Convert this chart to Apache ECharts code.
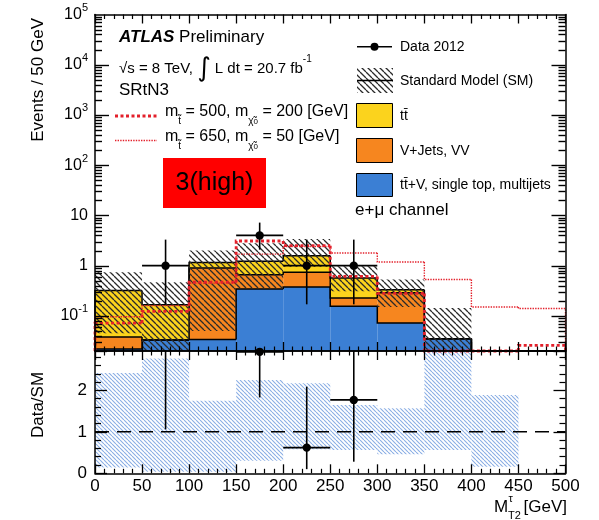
<!DOCTYPE html>
<html>
<head>
<meta charset="utf-8">
<script src="https://cdn.jsdelivr.net/npm/echarts@6/dist/echarts.min.js"></script>
<style>
html, body { margin: 0; padding: 0; background: #fff; }
#chart { width: 599px; height: 520px; }
</style>
</head>
<body>
<div id="chart"></div>
<script>
// ---- binning (M_T2 in GeV, 50 GeV bins) ----
const binLow = [0, 50, 100, 150, 200, 250, 300, 350, 400, 450];
const binWidth = 50;
const xTickLabels = [0, 50, 100, 150, 200, 250, 300, 350, 400, 450, 500];
const logTickLabels = [0.1, 1, 10, 100, 1000, 10000, 100000];
const ratioTickLabels = [0, 1, 2];

// ---- SM background components (events / bin) ----
const otherBkg = [0.022, 0.033, 0.034, 0.344, 0.377, 0.155, 0.072, 0.035, 0, 0]; // tt+V, single top, multijets
const vJets    = [0.016, 0, 0.866, 0.316, 0.363, 0.073, 0.218, 0, 0, 0];         // V+Jets, VV
const ttbar    = [0.282, 0.133, 0.26, 0.56, 0.84, 0.342, 0.04, 0, 0, 0];         // ttbar

// SM total uncertainty band
const smBandLow  = [0.045, 0.007, 0.05, 0.35, 0.95, 0.31, 0.15, 0.02, null, null];
const smBandHigh = [0.74, 0.47, 2.0, 2.8, 3.4, 0.97, 0.53, 0.144, null, null];

// signal benchmarks
const sig500_200 = [0.072, 0.123, 0.47, 3.1, 2.5, 0.61, 0.28, 0, 0, 0.026];
const sig650_50  = [0.096, 0.16, 0.45, 1.7, 2.4, 1.79, 1.18, 0.53, 0.15, 0.14];

// data 2012
const dataCounts  = [0, 1, 0, 4, 1, 1, 0, 0, 0, 0];
const dataErrLow  = [null, 0.17, null, 2.08, 0.17, 0.17, null, null, null, null];
const dataErrHigh = [null, 3.3, null, 7.2, 3.3, 3.3, null, null, null, null];

// Data/SM ratio
const ratioVal     = [null, 6.0, null, 2.93, 0.62, 1.77, null, null, null, null];
const ratioErrLow  = [null, 1.06, null, 1.83, 0.10, 0.28, null, null, null, null];
const ratioErrHigh = [null, 20, null, 5.9, 2.09, 5.8, null, null, null, null];
const ratioBandLow  = [0.14, 0.04, 0.04, 0.30, 0.58, 0.56, 0.46, 0.56, 0.16, null];
const ratioBandHigh = [2.42, 2.77, 1.75, 2.25, 2.17, 1.65, 1.57, 4.1, 1.89, null];

// ---- styling ----
const FONT = '"Liberation Sans", Arial, Helvetica, sans-serif';
const C_YELLOW = '#FBD31D';
const C_ORANGE = '#F6861F';
const C_BLUE = '#3B7FD4';
const C_RED = '#E3202B';
const yMin = 0.02, yMax = 1e5;
const rMin = 0, rMax = 2.95;

function hatch(color, size, width) {
  const c = document.createElement('canvas');
  c.width = size; c.height = size;
  const g = c.getContext('2d');
  g.strokeStyle = color; g.lineWidth = width;
  g.beginPath();
  for (const k of [-size, 0, size]) { g.moveTo(k, 0); g.lineTo(k + size, size); }
  g.stroke();
  return { image: c, repeat: 'repeat' };
}
const smHatch = hatch('#2a2a2a', 6, 1.3);
const ratioHatch = hatch('#8AAEE4', 4, 1.1);

const clampLog = v => (v > yMin ? Math.min(v, yMax) : yMin);
const clampLin = v => Math.max(rMin, Math.min(rMax, v));

// cumulative stack tops
const topBlue = otherBkg.slice();
const topOrange = otherBkg.map((v, i) => v + vJets[i]);
const topYellow = topOrange.map((v, i) => v + ttbar[i]);

function fillSeries(lows, highs, fill, z, xi, yi, clamp) {
  const data = [];
  binLow.forEach((x, i) => {
    if (highs[i] == null || lows[i] == null) return;
    if (!(highs[i] > lows[i])) return;
    data.push([x, clamp(highs[i]), clamp(lows[i]), x + binWidth]);
  });
  return {
    type: 'custom', xAxisIndex: xi, yAxisIndex: yi, z, silent: true,
    encode: { x: 0, y: 1 },
    data,
    renderItem(params, api) {
      const p0 = api.coord([api.value(0), api.value(1)]);
      const p1 = api.coord([api.value(3), api.value(2)]);
      return {
        type: 'rect',
        shape: { x: p0[0], y: p0[1], width: p1[0] - p0[0], height: p1[1] - p0[1] },
        style: { fill }
      };
    }
  };
}

function stepSeries(tops, color, width, dash, z) {
  return {
    type: 'custom', xAxisIndex: 0, yAxisIndex: 0, z, silent: true,
    encode: { x: 0, y: 1 },
    data: binLow.map((x, i) => [x, clampLog(tops[i])]),
    renderItem(params, api) {
      const i = params.dataIndex;
      const x0 = binLow[i], x1 = x0 + binWidth;
      const cur = clampLog(tops[i]);
      const prev = i === 0 ? yMin : clampLog(tops[i - 1]);
      const pts = [api.coord([x0, prev]), api.coord([x0, cur]), api.coord([x1, cur])];
      if (i === binLow.length - 1) pts.push(api.coord([x1, yMin]));
      return {
        type: 'polyline',
        shape: { points: pts },
        style: { stroke: color, lineWidth: width, lineDash: dash, fill: 'none' }
      };
    }
  };
}

function pointSeries(vals, lo, hi, xi, yi, clamp, vmin, vmax, z) {
  const data = [];
  binLow.forEach((x, i) => {
    if (vals[i] == null || !(vals[i] > 0)) return;
    data.push([x + binWidth / 2, vals[i], lo[i], hi[i], x, x + binWidth]);
  });
  return {
    type: 'custom', xAxisIndex: xi, yAxisIndex: yi, z, silent: true,
    encode: { x: 0, y: 1 },
    data,
    renderItem(params, api) {
      const xc = api.value(0), v = api.value(1), l = api.value(2), h = api.value(3);
      const xa = api.value(4), xb = api.value(5);
      const children = [];
      const pl = api.coord([xc, clamp(l)]);
      const ph = api.coord([xc, clamp(h)]);
      if (Math.abs(pl[1] - ph[1]) > 0.5) {
        children.push({ type: 'line', shape: { x1: pl[0], y1: pl[1], x2: ph[0], y2: ph[1] },
          style: { stroke: '#000', lineWidth: 1.6 } });
      }
      if (v >= vmin && v <= vmax) {
        const pa = api.coord([xa, v]), pb = api.coord([xb, v]);
        children.push({ type: 'line', shape: { x1: pa[0], y1: pa[1], x2: pb[0], y2: pb[1] },
          style: { stroke: '#000', lineWidth: 1.6 } });
        const pc = api.coord([xc, v]);
        children.push({ type: 'circle', shape: { cx: pc[0], cy: pc[1], r: 4.2 }, style: { fill: '#000' } });
      }
      return { type: 'group', children };
    }
  };
}

// upper-panel log ticks (major at decades, minor at 2..9)
const logTicks = [];
for (let e = -2; e <= 5; e++) {
  for (let k = 1; k <= 9; k++) {
    const v = k * Math.pow(10, e);
    if (v > yMin * 1.001 && v < yMax * 0.999) logTicks.push([0, v, k === 1 ? 1 : 0]);
  }
}
const logTickSeries = {
  type: 'custom', xAxisIndex: 0, yAxisIndex: 0, z: 20, silent: true,
  encode: { x: 0, y: 1 },
  data: logTicks,
  renderItem(params, api) {
    const v = api.value(1);
    const len = api.value(2) ? 14 : 7;
    const pl = api.coord([0, v]), pr = api.coord([500, v]);
    const y = Math.round(pl[1]) + 0.5;
    return {
      type: 'group',
      children: [
        { type: 'line', shape: { x1: pl[0], y1: y, x2: pl[0] + len, y2: y }, style: { stroke: '#000', lineWidth: 1.4 } },
        { type: 'line', shape: { x1: pr[0], y1: y, x2: pr[0] - len, y2: y }, style: { stroke: '#000', lineWidth: 1.4 } }
      ]
    };
  }
};

function logLabel(v) {
  const e = Math.log10(v);
  const r = Math.round(e);
  if (Math.abs(e - r) > 1e-6) return '';
  if (!logTickLabels.some(t => Math.abs(Math.log10(t) - r) < 1e-6)) return '';
  if (r === 0) return '{b|1}';
  if (r === 1) return '{b|10}';
  return '{b|10}{s|' + r + '}';
}

const axisLineStyle = { color: '#000', width: 1.5 };
function xAx(grid, pos, labels) {
  return {
    gridIndex: grid, type: 'value', min: 0, max: 500, interval: 50, position: pos, z: 10,
    axisLine: { show: true, onZero: false, lineStyle: axisLineStyle },
    axisTick: { show: true, inside: true, length: 9, lineStyle: { color: '#000', width: 1.3 } },
    minorTick: { show: true, splitNumber: 5, length: 4.5, lineStyle: { color: '#000', width: 1.2 } },
    splitLine: { show: false },
    axisLabel: labels ? {
      show: true, margin: 5, fontSize: 17, color: '#000', fontFamily: FONT,
      formatter: v => (xTickLabels.indexOf(v) >= 0 ? String(v) : '')
    } : { show: false }
  };
}
function ratioYAx(pos, labels) {
  return {
    gridIndex: 1, type: 'value', min: rMin, max: rMax, interval: 1, position: pos, z: 10,
    axisLine: { show: true, onZero: false, lineStyle: axisLineStyle },
    axisTick: { show: true, inside: true, length: 12, lineStyle: { color: '#000', width: 1.3 } },
    minorTick: { show: true, splitNumber: 5, length: 6, lineStyle: { color: '#000', width: 1.2 } },
    splitLine: { show: false },
    axisLabel: labels ? {
      show: true, margin: 8, fontSize: 17, color: '#000', fontFamily: FONT,
      formatter: v => (ratioTickLabels.indexOf(v) >= 0 ? String(v) : '')
    } : { show: false }
  };
}
function logYAx(pos, labels) {
  return {
    gridIndex: 0, type: 'log', logBase: 10, min: yMin, max: yMax, position: pos, z: 10,
    axisLine: { show: true, onZero: false, lineStyle: axisLineStyle },
    axisTick: { show: false }, minorTick: { show: false }, splitLine: { show: false },
    axisLabel: labels ? {
      show: true, margin: 7, color: '#000', formatter: logLabel,
      rich: {
        b: { fontSize: 16, fontFamily: FONT, color: '#000', lineHeight: 24, verticalAlign: 'middle' },
        s: { fontSize: 11, fontFamily: FONT, color: '#000', lineHeight: 12, verticalAlign: 'top' }
      }
    } : { show: false }
  };
}

// ---- text elements ----
function txt(x, y, text, size, opts) {
  opts = opts || {};
  return {
    type: 'text', x, y, z: 100, rotation: opts.rotation || 0, silent: true,
    style: Object.assign({
      text, fontSize: size, fontFamily: FONT, fill: '#000',
      align: opts.align || 'left', textAlign: opts.align || 'left',
      verticalAlign: 'middle', textVerticalAlign: 'middle'
    }, opts.style || {})
  };
}
const richSig = {
  m: { fontSize: 16, fontFamily: FONT, fill: '#000', color: '#000', lineHeight: 28, verticalAlign: 'middle' },
  sub: { fontSize: 10, fontFamily: FONT, fill: '#000', color: '#000', lineHeight: 14, verticalAlign: 'bottom' },
  ss: { fontSize: 8, fontFamily: FONT, fill: '#000', color: '#000', lineHeight: 22, verticalAlign: 'bottom' }
};

const graphic = [
  // category tag
  { type: 'rect', z: 90, silent: true, shape: { x: 163, y: 158, width: 103, height: 50 }, style: { fill: '#FF0000' } },
  txt(214.5, 183, '3(high)', 25, { align: 'center' }),

  // header
  {
    type: 'text', x: 119, y: 37, z: 100, silent: true,
    style: {
      text: '{b|ATLAS}{r| Preliminary}', align: 'left', verticalAlign: 'middle', textAlign: 'left', textVerticalAlign: 'middle',
      rich: {
        b: { fontSize: 17, fontFamily: FONT, fontWeight: 'bold', fontStyle: 'italic', fill: '#000', color: '#000' },
        r: { fontSize: 17, fontFamily: FONT, fill: '#000', color: '#000' }
      }
    }
  },
  {
    type: 'text', x: 119, y: 69, z: 100, silent: true,
    style: {
      text: '{a|√s = 8 TeV, }{i|∫}{a| L dt = 20.7 fb}{s|-1}', align: 'left', verticalAlign: 'middle', textAlign: 'left', textVerticalAlign: 'middle',
      rich: {
        a: { fontSize: 15, fontFamily: FONT, fill: '#000', color: '#000', lineHeight: 30, verticalAlign: 'middle' },
        i: { fontSize: 26, fontFamily: '"DejaVu Sans", sans-serif', fill: '#000', color: '#000', lineHeight: 30, verticalAlign: 'middle' },
        s: { fontSize: 10, fontFamily: FONT, fill: '#000', color: '#000', lineHeight: 18, verticalAlign: 'top' }
      }
    }
  },
  txt(119, 90, 'SRtN3', 17),

  // signal legend
  { type: 'line', z: 100, silent: true, shape: { x1: 115, y1: 116, x2: 157, y2: 116 }, style: { stroke: C_RED, lineWidth: 2.8, lineDash: [3, 2.5] } },
  { type: 'line', z: 100, silent: true, shape: { x1: 115, y1: 140.5, x2: 157, y2: 140.5 }, style: { stroke: C_RED, lineWidth: 1.4, lineDash: [1.4, 1.2] } },
  {
    type: 'text', x: 165, y: 112, z: 100, silent: true,
    style: { text: '{m|m}{sub|t̃}{m| = 500, m}{sub|χ̃}{ss|0}{m| = 200 [GeV]}', align: 'left', verticalAlign: 'middle', textAlign: 'left', textVerticalAlign: 'middle', rich: richSig }
  },
  {
    type: 'text', x: 165, y: 137, z: 100, silent: true,
    style: { text: '{m|m}{sub|t̃}{m| = 650, m}{sub|χ̃}{ss|0}{m| = 50 [GeV]}', align: 'left', verticalAlign: 'middle', textAlign: 'left', textVerticalAlign: 'middle', rich: richSig }
  },

  // right legend
  { type: 'line', z: 100, silent: true, shape: { x1: 357, y1: 46.7, x2: 392, y2: 46.7 }, style: { stroke: '#000', lineWidth: 1.6 } },
  { type: 'circle', z: 100, silent: true, shape: { cx: 374.5, cy: 46.7, r: 4 }, style: { fill: '#000' } },
  txt(400, 47, 'Data 2012', 14),
  { type: 'rect', z: 100, silent: true, shape: { x: 357, y: 68, width: 36, height: 25 }, style: { fill: smHatch } },
  { type: 'line', z: 101, silent: true, shape: { x1: 357, y1: 80.5, x2: 393, y2: 80.5 }, style: { stroke: '#000', lineWidth: 1.5 } },
  txt(400, 81, 'Standard Model (SM)', 14),
  { type: 'rect', z: 100, silent: true, shape: { x: 356.5, y: 103.5, width: 36, height: 24 }, style: { fill: C_YELLOW, stroke: '#000', lineWidth: 1 } },
  txt(400, 116, 'tt̄', 14),
  { type: 'rect', z: 100, silent: true, shape: { x: 356.5, y: 138.5, width: 36, height: 24 }, style: { fill: C_ORANGE, stroke: '#000', lineWidth: 1 } },
  txt(400, 151, 'V+Jets, VV', 14),
  { type: 'rect', z: 100, silent: true, shape: { x: 356.5, y: 173.5, width: 36, height: 23 }, style: { fill: C_BLUE, stroke: '#000', lineWidth: 1 } },
  txt(400, 185, 'tt̄+V, single top, multijets', 14),
  txt(355, 210, 'e+μ channel', 17),

  // axis titles
  txt(38.5, 18, 'Events / 50 GeV', 17, { rotation: Math.PI / 2, align: 'right' }),
  txt(38.5, 405, 'Data/SM', 17, { rotation: Math.PI / 2, align: 'center' }),
  txt(567, 507, '[GeV]', 17, { align: 'right' }),
  txt(494, 507, 'M', 17),
  txt(508.5, 499, 'τ', 11),
  txt(508, 515.5, 'T2', 11)
];

const option = {
  animation: false,
  backgroundColor: '#fff',
  grid: [
    { left: 95, right: 33.5, top: 14.5, bottom: 169, containLabel: false },
    { left: 95, right: 33.5, top: 351, bottom: 46.7, containLabel: false }
  ],
  xAxis: [xAx(0, 'bottom', false), xAx(0, 'top', false), xAx(1, 'bottom', true), xAx(1, 'top', false)],
  yAxis: [logYAx('left', true), logYAx('right', false), ratioYAx('left', true), ratioYAx('right', false)],
  series: [
    // stacked SM
    fillSeries(binLow.map(() => yMin), topBlue, C_BLUE, 2, 0, 0, clampLog),
    fillSeries(topBlue, topOrange, C_ORANGE, 2, 0, 0, clampLog),
    fillSeries(topOrange, topYellow, C_YELLOW, 2, 0, 0, clampLog),
    stepSeries(topBlue, '#000', 1.5, null, 3),
    stepSeries(topOrange, '#000', 1.5, null, 3),
    stepSeries(topYellow, '#000', 1.5, null, 3),
    // SM uncertainty
    fillSeries(smBandLow, smBandHigh, smHatch, 4, 0, 0, clampLog),
    // signals
    stepSeries(sig650_50, C_RED, 1.4, [1.4, 1.2], 5),
    stepSeries(sig500_200, C_RED, 2.8, [3, 2.5], 5),
    // data
    pointSeries(dataCounts, dataErrLow, dataErrHigh, 0, 0, clampLog, yMin, yMax, 6),
    logTickSeries,
    // ratio panel
    fillSeries(ratioBandLow, ratioBandHigh, ratioHatch, 2, 2, 2, clampLin),
    {
      type: 'line', xAxisIndex: 2, yAxisIndex: 2, z: 4, silent: true, symbol: 'none',
      data: [[0, 1], [500, 1]],
      lineStyle: { color: '#000', width: 1.5, type: [14, 8] }
    },
    pointSeries(ratioVal, ratioErrLow, ratioErrHigh, 2, 2, clampLin, rMin, rMax, 6)
  ],
  graphic
};

const chart = echarts.init(document.getElementById('chart'), null, { renderer: 'canvas' });
chart.setOption(option);
</script>
</body>
</html>
